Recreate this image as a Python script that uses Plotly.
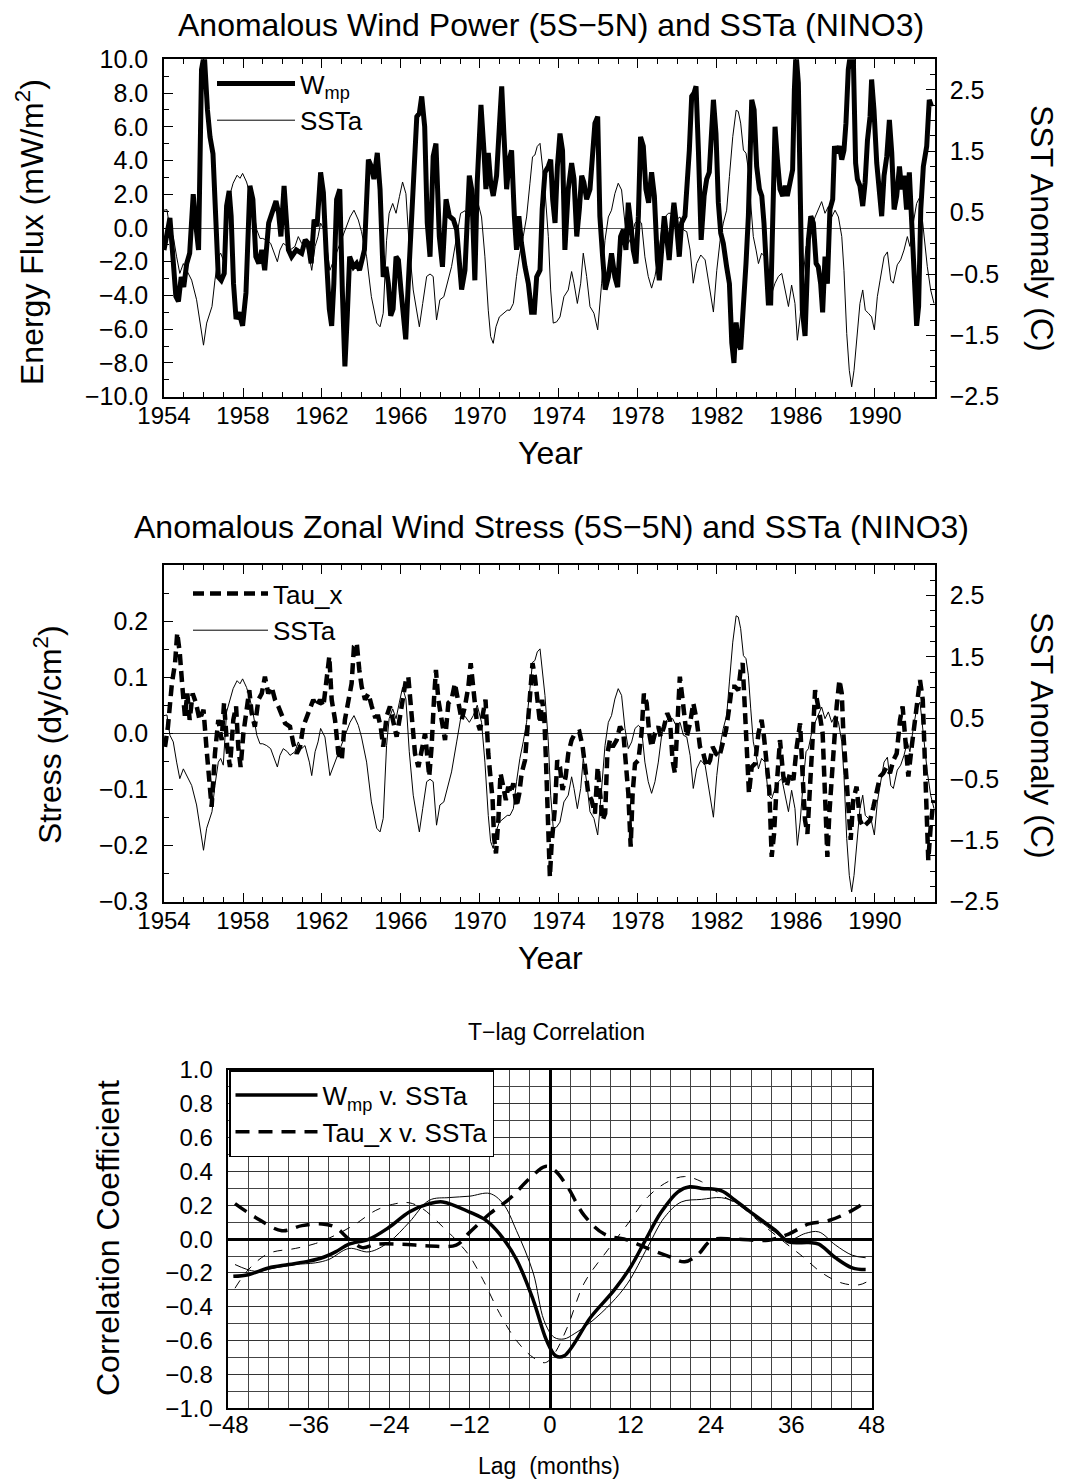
import plotly.graph_objects as go

# ---------------- Panel 1: anomalous wind power ----------------
W_YEAR = [1954.0, 1954.13, 1954.3, 1954.45, 1954.6, 1954.73, 1954.87, 1955.0, 1955.15, 1955.3,
          1955.48, 1955.6, 1955.75, 1955.9, 1956.04, 1956.2, 1956.33, 1956.48, 1956.63, 1956.75,
          1956.9, 1957.05, 1957.17, 1957.3, 1957.4, 1957.52, 1957.65, 1957.8, 1957.98, 1958.15,
          1958.35, 1958.5, 1958.65, 1958.8, 1958.95, 1959.1, 1959.3, 1959.45, 1959.67, 1959.8,
          1959.92, 1960.08, 1960.3, 1960.46, 1960.7, 1960.97, 1961.15, 1961.3, 1961.45, 1961.6,
          1961.75, 1961.93, 1962.07, 1962.22, 1962.37, 1962.49, 1962.6, 1962.74, 1962.9, 1963.03,
          1963.16, 1963.28, 1963.4, 1963.6, 1963.75, 1963.9, 1964.15, 1964.35, 1964.5, 1964.63,
          1964.8, 1964.94, 1965.1, 1965.24, 1965.36, 1965.48, 1965.6, 1965.75, 1965.87, 1966.0,
          1966.1, 1966.24, 1966.37, 1966.5, 1966.65, 1966.8, 1966.93, 1967.05, 1967.2, 1967.33,
          1967.47, 1967.63, 1967.77, 1967.94, 1968.1, 1968.28, 1968.45, 1968.65, 1968.82, 1969.07,
          1969.24, 1969.46, 1969.58, 1969.74, 1969.86, 1970.05, 1970.2, 1970.3, 1970.42, 1970.54,
          1970.67, 1970.84, 1970.98, 1971.1, 1971.21, 1971.35, 1971.48, 1971.6, 1971.74, 1971.85,
          1971.97, 1972.1, 1972.28, 1972.45, 1972.61, 1972.75, 1972.87, 1973.04, 1973.15, 1973.29,
          1973.46, 1973.58, 1973.68, 1973.8, 1973.92, 1974.05, 1974.18, 1974.3, 1974.47, 1974.64,
          1974.76, 1974.9, 1975.03, 1975.15, 1975.26, 1975.4, 1975.57, 1975.7, 1975.82, 1975.96,
          1976.07, 1976.21, 1976.34, 1976.5, 1976.66, 1976.83, 1976.97, 1977.12, 1977.26, 1977.39,
          1977.51, 1977.63, 1977.76, 1977.9, 1978.02, 1978.13, 1978.27, 1978.4, 1978.54, 1978.69,
          1978.83, 1978.98, 1979.08, 1979.2, 1979.33, 1979.45, 1979.58, 1979.72, 1979.82, 1979.96,
          1980.09, 1980.21, 1980.38, 1980.6, 1980.72, 1980.84, 1980.94, 1981.06, 1981.2, 1981.35,
          1981.48, 1981.61, 1981.73, 1981.82, 1981.95, 1982.07, 1982.19, 1982.32, 1982.49, 1982.63,
          1982.75, 1982.86, 1982.97, 1983.08, 1983.2, 1983.34, 1983.47, 1983.59, 1983.67, 1983.76,
          1983.88, 1984.01, 1984.15, 1984.27, 1984.38, 1984.48, 1984.6, 1984.72, 1984.82, 1984.94,
          1985.06, 1985.19, 1985.33, 1985.45, 1985.56, 1985.7, 1985.83, 1985.92, 1986.0, 1986.12,
          1986.21, 1986.32, 1986.46, 1986.54, 1986.63, 1986.75, 1986.88, 1987.02, 1987.13, 1987.25,
          1987.35, 1987.47, 1987.59, 1987.72, 1987.86, 1987.95, 1988.06, 1988.2, 1988.32, 1988.43,
          1988.53, 1988.65, 1988.77, 1988.9, 1989.02, 1989.11, 1989.24, 1989.38, 1989.5, 1989.62,
          1989.75, 1989.83, 1989.95, 1990.09, 1990.22, 1990.34, 1990.46, 1990.6, 1990.73, 1990.85,
          1990.97, 1991.1, 1991.24, 1991.35, 1991.47, 1991.6, 1991.74, 1991.86, 1991.98, 1992.11,
          1992.21, 1992.32, 1992.45, 1992.62, 1992.75, 1992.87]
W_VAL = [-1.3, -0.5, 0.6, -1.7, -4.05, -4.35, -2.9, -3.5, -2.1, -1.5,
         2.0, 0.3, -1.3, 9.4, 10.3, 7.0, 5.4, 4.4, -0.5, -2.9,
         -3.1, -2.7, 1.3, 2.2, 0.7, -3.3, -5.4, -5.0, -5.8, -3.85,
         2.5, 1.7, -1.7, -2.1, -1.3, -2.5, 0.3, 0.9, 1.6, 0.9,
         -0.5, 2.5, -1.3, -1.7, -1.3, -1.5, -0.7, -0.9, -2.1, 0.5,
         0.1, 3.3, 2.1, -1.7, -4.8, -5.8, -3.3, 1.7, 2.3, -3.7,
         -8.2, -5.2, -1.7, -2.3, -2.1, -2.5, -1.3, 4.05, 3.65, 2.9,
         4.45, 2.3, -2.9, -2.3, -3.3, -5.2, -4.8, -1.7, -1.9, -3.7,
         -4.8, -6.6, -3.3, -0.4, 3.1, 6.6, 6.8, 7.8, 6.0, 0.3,
         -1.7, 4.25, 5.0, -0.5, -2.3, 1.7, 0.7, 0.5, -0.1, -3.65,
         -2.5, 3.1, 2.3, -3.1, 2.7, 7.3, 4.6, 2.3, 4.45, 2.7,
         1.9, 3.1, 6.0, 8.4, 5.6, 2.3, 4.05, 4.6, 0.7, -1.3,
         0.7, -0.9, -2.3, -3.3, -5.0, -5.0, -2.9, -2.5, 1.1, 3.3,
         3.65, 4.05, 1.7, 0.3, 3.65, 5.6, 4.6, -1.3, 2.3, 3.85,
         2.9, -0.5, 1.1, 3.1, 2.7, 1.7, 2.3, 4.25, 6.2, 6.6,
         0.7, -1.7, -3.65, -2.9, -1.5, -2.9, -3.5, -0.5, -0.1, -1.3,
         1.5, 0.3, -1.3, -2.1, 0.7, 5.4, 4.85, 2.3, 1.5, 3.3,
         1.9, -1.9, -3.1, -1.3, 0.7, -0.5, -1.9, 0.3, 1.5, 0.1,
         -1.7, 0.3, 0.7, 4.6, 7.8, 8.0, 8.4, 4.6, -0.7, 1.9,
         2.9, 3.3, 6.6, 7.6, 5.6, 1.5, -0.3, -0.9, -2.3, -3.3,
         -6.8, -8.0, -5.6, -6.8, -7.2, -4.85, -2.1, 0.7, 5.6, 7.6,
         7.0, 3.65, 2.3, 1.9, 0.3, -2.3, -4.45, -4.45, 1.1, 6.0,
         4.05, 2.3, 1.9, 2.5, 1.9, 2.7, 3.45, 8.2, 10.4, 8.6,
         1.7, -4.85, -6.4, -3.3, -0.7, 0.7, 0.3, -2.1, -2.3, -3.3,
         -5.0, -1.7, -3.3, 1.1, 1.7, 4.85, 4.45, 4.85, 4.05, 4.6,
         6.2, 9.4, 10.4, 10.3, 3.85, 2.9, 2.5, 1.3, 2.7, 5.2,
         6.6, 8.8, 7.0, 3.85, 1.7, 0.7, 3.1, 4.25, 6.4, 4.45,
         1.1, 1.9, 3.65, 2.3, 3.1, 1.1, 3.3, 0.7, -2.3, -5.8,
         -4.65, 1.1, 3.65, 4.85, 7.6, 7.2]

# ---------------- SST anomaly (NINO3), shared by panels 1 and 2 ----------------
SST_YEAR = [1954.0, 1954.15, 1954.3, 1954.47, 1954.64, 1954.8, 1954.98, 1955.15, 1955.4, 1955.65,
            1955.82, 1956.0, 1956.16, 1956.3, 1956.43, 1956.58, 1956.75, 1956.87, 1957.0, 1957.17,
            1957.34, 1957.5, 1957.7, 1957.85, 1957.98, 1958.18, 1958.35, 1958.5, 1958.7, 1958.86,
            1959.0, 1959.2, 1959.4, 1959.57, 1959.74, 1959.87, 1960.04, 1960.25, 1960.38, 1960.63,
            1960.8, 1960.97, 1961.14, 1961.36, 1961.48, 1961.65, 1961.8, 1961.93, 1962.15, 1962.4,
            1962.66, 1962.9, 1963.16, 1963.42, 1963.62, 1963.84, 1964.0, 1964.26, 1964.5, 1964.77,
            1964.94, 1965.1, 1965.27, 1965.4, 1965.58, 1965.75, 1965.92, 1966.08, 1966.25, 1966.42,
            1966.62, 1966.8, 1966.93, 1967.1, 1967.3, 1967.47, 1967.63, 1967.8, 1967.97, 1968.17,
            1968.4, 1968.56, 1968.82, 1969.02, 1969.24, 1969.46, 1969.66, 1969.86, 1970.08, 1970.25,
            1970.42, 1970.54, 1970.67, 1970.81, 1970.98, 1971.18, 1971.38, 1971.52, 1971.69, 1971.85,
            1972.02, 1972.19, 1972.36, 1972.53, 1972.66, 1972.78, 1972.9, 1973.04, 1973.17, 1973.29,
            1973.46, 1973.58, 1973.71, 1973.88, 1974.05, 1974.25, 1974.47, 1974.64, 1974.76, 1974.93,
            1975.1, 1975.23, 1975.4, 1975.57, 1975.77, 1975.96, 1976.16, 1976.33, 1976.5, 1976.66,
            1976.83, 1977.0, 1977.17, 1977.34, 1977.51, 1977.68, 1977.85, 1978.02, 1978.18, 1978.35,
            1978.52, 1978.69, 1978.86, 1979.03, 1979.2, 1979.37, 1979.54, 1979.76, 1979.92, 1980.13,
            1980.3, 1980.47, 1980.64, 1980.8, 1980.97, 1981.18, 1981.4, 1981.56, 1981.82, 1981.99,
            1982.16, 1982.32, 1982.49, 1982.63, 1982.8, 1982.97, 1983.08, 1983.2, 1983.34, 1983.47,
            1983.59, 1983.71, 1983.84, 1983.98, 1984.1, 1984.26, 1984.43, 1984.6, 1984.77, 1984.94,
            1985.11, 1985.28, 1985.45, 1985.62, 1985.78, 1985.95, 1986.07, 1986.21, 1986.37, 1986.51,
            1986.63, 1986.8, 1986.97, 1987.13, 1987.3, 1987.47, 1987.64, 1987.81, 1987.98, 1988.15,
            1988.32, 1988.43, 1988.57, 1988.7, 1988.82, 1988.94, 1989.08, 1989.24, 1989.38, 1989.51,
            1989.67, 1989.83, 1989.97, 1990.12, 1990.26, 1990.46, 1990.63, 1990.8, 1990.93, 1991.13,
            1991.3, 1991.47, 1991.64, 1991.77, 1991.94, 1992.11, 1992.28, 1992.45, 1992.65, 1992.82,
            1992.99]
SST_VAL = [0.54, 0.55, 0.22, 0.11, -0.22, -0.49, -0.33, -0.44, -0.6, -0.92,
           -1.3, -1.66, -1.3, -1.14, -1.03, -0.6, -0.22, -0.16, -0.27, 0.6,
           0.81, 0.98, 1.11, 1.06, 1.14, 1.0, 0.81, 0.6, 0.22, 0.08,
           0.08, 0.05, 0.0, -0.16, -0.3, -0.11, 0.0, -0.05, -0.11, -0.05,
           0.11, 0.0, 0.05, -0.22, -0.44, -0.05, 0.11, 0.33, 0.19, -0.44,
           -0.22, 0.0, 0.22, 0.43, 0.54, 0.38, 0.19, -0.22, -0.87, -1.3,
           -1.36, -1.14, 0.05, 0.49, 0.65, 0.49, 0.76, 1.0, 0.81, -0.05,
           -0.76, -1.14, -1.36, -0.98, -0.54, -0.5, -0.54, -1.25, -0.92, -0.87,
           -0.6, -0.38, 0.11, 0.49, 0.53, 0.43, 0.54, 0.71, 0.43, -0.22,
           -1.09, -1.52, -1.63, -1.36, -1.2, -1.14, -1.09, -1.09, -0.98, -0.54,
           -0.16, 0.11, 0.43, 0.98, 1.41, 1.44, 1.58, 1.63, 1.25, 0.87,
           0.11, -0.76, -1.3, -1.28, -1.2, -0.87, -0.76, -0.46, -0.65, -0.98,
           -0.65, -0.16, -0.54, -1.03, -1.14, -1.41, -0.65, 0.05, 0.43, 0.54,
           0.81, 0.98, 0.87, 0.33, 0.0, 0.11, 0.33, 0.38, 0.33, -0.22,
           -0.54, -0.73, -0.54, -0.22, 0.22, 0.43, 0.49, 0.49, 0.38, 0.43,
           0.22, 0.19, -0.11, -0.65, -0.33, -0.19, -0.27, -0.6, -1.12, -0.44,
           0.05, 0.33, 0.54, 1.09, 1.74, 2.17, 2.15, 1.96, 1.52, 1.47,
           1.2, 0.65, 0.11, -0.11, -0.33, -0.16, -0.22, -0.76, -0.82, -0.65,
           -0.54, -0.49, -0.76, -1.03, -0.68, -0.98, -1.58, -1.2, -0.54, -0.05,
           0.0, 0.27, 0.43, 0.54, 0.68, 0.49, 0.6, 0.43, 0.54, 0.43,
           0.11, -0.44, -1.47, -2.07, -2.34, -2.07, -1.52, -0.98, -0.76, -1.09,
           -1.14, -1.2, -1.41, -0.87, -0.6, -0.22, -0.14, -0.6, -0.65, -0.35,
           -0.27, -0.11, 0.11, -0.05, 0.33, 0.65, 0.76, 0.22, -0.38, -0.76,
           -0.98]

# ---------------- Panel 2: anomalous zonal wind stress ----------------
TAU_YEAR = [1954.05, 1954.2, 1954.4, 1954.56, 1954.67, 1954.8, 1954.93, 1955.06, 1955.18, 1955.3,
            1955.45, 1955.62, 1955.8, 1956.0, 1956.16, 1956.3, 1956.41, 1956.58, 1956.75, 1956.92,
            1957.04, 1957.2, 1957.34, 1957.51, 1957.65, 1957.76, 1957.88, 1958.02, 1958.19, 1958.32,
            1958.44, 1958.6, 1958.78, 1958.95, 1959.11, 1959.28, 1959.45, 1959.62, 1959.79, 1959.96,
            1960.13, 1960.38, 1960.55, 1960.72, 1960.89, 1961.05, 1961.22, 1961.39, 1961.56, 1961.73,
            1961.9, 1962.07, 1962.24, 1962.37, 1962.49, 1962.66, 1962.83, 1963.0, 1963.16, 1963.33,
            1963.5, 1963.62, 1963.76, 1963.89, 1964.01, 1964.18, 1964.35, 1964.52, 1964.68, 1964.85,
            1964.97, 1965.1, 1965.27, 1965.44, 1965.61, 1965.78, 1965.95, 1966.12, 1966.25, 1966.37,
            1966.54, 1966.71, 1966.88, 1967.05, 1967.22, 1967.43, 1967.55, 1967.67, 1967.77, 1967.89,
            1968.06, 1968.23, 1968.4, 1968.56, 1968.73, 1968.9, 1969.07, 1969.24, 1969.41, 1969.53,
            1969.66, 1969.83, 1970.0, 1970.17, 1970.28, 1970.42, 1970.54, 1970.64, 1970.71, 1970.81,
            1970.93, 1971.04, 1971.18, 1971.31, 1971.43, 1971.55, 1971.69, 1971.85, 1971.99, 1972.11,
            1972.28, 1972.4, 1972.53, 1972.66, 1972.78, 1972.9, 1973.04, 1973.15, 1973.26, 1973.34,
            1973.46, 1973.54, 1973.63, 1973.71, 1973.8, 1973.91, 1974.05, 1974.18, 1974.34, 1974.47,
            1974.64, 1974.81, 1975.03, 1975.2, 1975.31, 1975.48, 1975.65, 1975.82, 1975.96, 1976.07,
            1976.21, 1976.34, 1976.45, 1976.58, 1976.72, 1976.92, 1977.09, 1977.26, 1977.39, 1977.51,
            1977.63, 1977.73, 1977.85, 1978.02, 1978.18, 1978.3, 1978.44, 1978.57, 1978.69, 1978.86,
            1979.03, 1979.15, 1979.32, 1979.48, 1979.62, 1979.75, 1979.87, 1979.99, 1980.12, 1980.26,
            1980.38, 1980.47, 1980.64, 1980.8, 1980.97, 1981.14, 1981.31, 1981.48, 1981.65, 1981.78,
            1981.95, 1982.12, 1982.29, 1982.46, 1982.63, 1982.75, 1982.91, 1983.08, 1983.2, 1983.3,
            1983.39, 1983.47, 1983.54, 1983.62, 1983.76, 1983.93, 1984.1, 1984.26, 1984.38, 1984.52,
            1984.65, 1984.77, 1984.89, 1985.02, 1985.19, 1985.36, 1985.53, 1985.7, 1985.87, 1986.04,
            1986.21, 1986.34, 1986.46, 1986.58, 1986.71, 1986.85, 1986.97, 1987.08, 1987.22, 1987.35,
            1987.42, 1987.51, 1987.59, 1987.69, 1987.81, 1987.93, 1988.06, 1988.2, 1988.32, 1988.4,
            1988.52, 1988.65, 1988.77, 1988.9, 1989.07, 1989.24, 1989.41, 1989.58, 1989.75, 1989.92,
            1990.09, 1990.26, 1990.42, 1990.59, 1990.76, 1990.93, 1991.1, 1991.27, 1991.4, 1991.52,
            1991.69, 1991.86, 1992.03, 1992.15, 1992.28, 1992.42, 1992.53, 1992.62, 1992.7, 1992.82,
            1992.96]
TAU_VAL = [-0.024, 0.012, 0.089, 0.125, 0.179, 0.143, 0.083, 0.03, 0.071, 0.024,
           0.071, 0.054, 0.024, 0.042, -0.03, -0.095, -0.131, -0.036, 0.024, -0.012,
           0.054, -0.024, -0.06, 0.024, 0.048, -0.024, -0.06, 0.0, 0.048, 0.077,
           0.036, 0.012, 0.06, 0.071, 0.101, 0.071, 0.083, 0.06, 0.048, 0.03,
           0.018, 0.012, -0.018, -0.036, -0.024, 0.012, 0.03, 0.042, 0.06, 0.048,
           0.06, 0.048, 0.107, 0.137, 0.06, 0.024, -0.036, -0.048, 0.024, 0.06,
           0.089, 0.155, 0.161, 0.113, 0.083, 0.06, 0.071, 0.048, 0.03, 0.03,
           0.012, -0.024, 0.03, 0.048, 0.024, -0.006, 0.03, 0.071, 0.095, 0.101,
           0.036, -0.036, -0.06, -0.024, 0.0, -0.077, -0.024, 0.06, 0.113, 0.06,
           0.024, -0.012, 0.054, 0.06, 0.089, 0.06, 0.024, 0.048, 0.083, 0.125,
           0.083, 0.024, 0.006, 0.036, 0.06, -0.036, -0.077, -0.119, -0.185, -0.214,
           -0.155, -0.071, -0.095, -0.119, -0.095, -0.107, -0.089, -0.131, -0.107, -0.071,
           -0.048, 0.0, 0.071, 0.125, 0.101, 0.054, 0.018, 0.06, 0.024, -0.048,
           -0.155, -0.256, -0.196, -0.167, -0.131, -0.048, -0.06, -0.101, -0.077, -0.036,
           -0.012, 0.0, 0.003, -0.024, -0.06, -0.107, -0.119, -0.143, -0.06, -0.107,
           -0.155, -0.143, -0.036, -0.012, -0.024, -0.012, 0.012, 0.0, -0.048, -0.107,
           -0.202, -0.107, -0.054, -0.048, 0.0, 0.071, 0.054, 0.0, -0.024, 0.0,
           0.012, -0.006, 0.012, 0.036, 0.024, -0.048, -0.071, 0.024, 0.101, 0.06,
           0.012, -0.006, 0.018, 0.054, 0.024, -0.024, -0.036, -0.06, -0.048, -0.024,
           -0.036, -0.042, -0.018, 0.006, 0.048, 0.083, 0.083, 0.077, 0.113, 0.125,
           0.06, 0.0, -0.077, -0.107, -0.06, -0.054, 0.0, 0.024, -0.006, -0.048,
           -0.101, -0.22, -0.179, -0.095, -0.012, -0.077, -0.095, -0.071, -0.083, -0.024,
           0.018, -0.077, -0.155, -0.179, -0.107, -0.006, 0.077, 0.06, 0.03, 0.0,
           -0.06, -0.167, -0.22, -0.143, -0.071, -0.024, 0.048, 0.095, 0.071, 0.0,
           -0.06, -0.143, -0.19, -0.119, -0.095, -0.155, -0.167, -0.161, -0.155, -0.131,
           -0.107, -0.077, -0.071, -0.06, -0.071, -0.048, -0.036, 0.024, 0.048, -0.012,
           -0.077, -0.024, 0.024, 0.071, 0.095, 0.06, -0.06, -0.155, -0.226, -0.167,
           -0.119]

# ---------------- Panel 3: lag correlation ----------------
LAG_W = [-47.25, -45, -42, -39, -36, -34, -32, -30, -27, -24, -21, -18, -16, -12, -9.5, -7.5, -5,
         -2.5, -0.5, 0.85, 2.1, 6.1, 9.6, 12.1, 14.1, 16.6, 19.1, 20.85, 22.6, 25.6, 27.6, 30.6,
         33.6, 35.6, 38.6, 40.1, 42.6, 45.1, 47.1]
R_W = [-0.22, -0.21, -0.17, -0.15, -0.13, -0.11, -0.075, -0.03, 0.0, 0.07, 0.16, 0.21, 0.22,
       0.16, 0.11, 0.03, -0.12, -0.36, -0.6, -0.69, -0.69, -0.46, -0.30, -0.16, -0.016, 0.16,
       0.28, 0.31, 0.30, 0.286, 0.23, 0.14, 0.053, -0.016, -0.02, -0.03, -0.11, -0.17, -0.18]
LAG_T = [-47, -44, -40, -37, -34, -32, -30, -28, -26, -22, -18, -14, -12, -9, -6, -3, -0.7, 0.6,
         2.6, 5.1, 8.1, 11.6, 14.6, 17.6, 20.1, 22.1, 24.1, 27.6, 32.6, 35.6, 38.6, 41.6, 44.6, 47.1]
R_T = [0.21, 0.13, 0.05, 0.08, 0.09, 0.07, 0.0, -0.05, -0.03, -0.03, -0.04, -0.035, 0.04, 0.15,
       0.24, 0.36, 0.43, 0.41, 0.31, 0.14, 0.03, -0.006, -0.055, -0.10, -0.134, -0.09, -0.006,
       0.0, -0.006, 0.03, 0.09, 0.11, 0.16, 0.22]
LAG_W_THIN = [-47, -44, -41, -38, -35, -33, -30, -27, -24, -21, -18, -15, -12, -9, -7, -5, -2.5,
              -0.9, 0.6, 2.1, 3.6, 6.1, 9.1, 11.6, 14.6, 17.1, 19.6, 22.6, 25.6, 28.1, 30.6, 33.6,
              35.6, 38.1, 40.1, 42.6, 45.1, 47.1]
R_W_THIN = [-0.15, -0.19, -0.17, -0.15, -0.14, -0.12, -0.055, -0.075, -0.016, 0.10, 0.23, 0.246,
            0.254, 0.27, 0.21, 0.05, -0.2, -0.48, -0.58, -0.59, -0.56, -0.49, -0.38, -0.26, -0.045,
            0.13, 0.22, 0.235, 0.245, 0.21, 0.13, 0.04, -0.006, 0.034, 0.043, -0.035, -0.095, -0.11]
LAG_T_THIN = [-47, -45, -42, -38, -35, -32, -29, -26, -23, -21, -19, -16, -14, -12, -10, -7.5, -5,
              -2.5, -0.7, 0.6, 2.6, 5.1, 8.6, 11.6, 14.6, 17.6, 20.1, 22.6, 25.6, 28.6, 31.6, 34.6,
              37.6, 40.6, 43.6, 46.1, 47.4]
R_T_THIN = [-0.29, -0.18, -0.085, -0.055, -0.026, 0.024, 0.09, 0.17, 0.21, 0.215, 0.18, 0.073,
            -0.006, -0.1, -0.24, -0.44, -0.6, -0.7, -0.73, -0.68, -0.52, -0.26, -0.065, 0.09, 0.25,
            0.34, 0.37, 0.34, 0.26, 0.19, 0.09, -0.006, -0.1, -0.2, -0.26, -0.27, -0.25]

YEAR_TICKS = [1954, 1958, 1962, 1966, 1970, 1974, 1978, 1982, 1986, 1990]
W_TICKS = [-10, -8, -6, -4, -2, 0, 2, 4, 6, 8, 10]
SST_TICKS = [-2.5, -1.5, -0.5, 0.5, 1.5, 2.5]
TAU_TICKS = [-0.3, -0.2, -0.1, 0.0, 0.1, 0.2]
LAG_TICKS = [-48, -36, -24, -12, 0, 12, 24, 36, 48]
R_TICKS = [-1.0, -0.8, -0.6, -0.4, -0.2, 0.0, 0.2, 0.4, 0.6, 0.8, 1.0]


def lab(v, fmt):
    s = format(v, fmt)
    return s.replace("-", "\u2212")


FONT = "Liberation Sans, Arial, Helvetica, sans-serif"
XTICK_FS = 24
YTICK_FS = 25
LEG_FS = 26
TITLE_FS = 32
SMALL_TITLE_FS = 23
W_PX, H_PX = 1067, 1481
OFF = 8  # page body margin of the browser


def px(x):
    return (x - OFF) / W_PX


def py(y):
    return 1 - (y - OFF) / H_PX


fig = go.Figure()

# Panel 1
fig.add_trace(go.Scatter(x=W_YEAR, y=W_VAL, mode="lines", name="W<sub>mp</sub>",
                         line=dict(color="black", width=5), xaxis="x", yaxis="y",
                         legend="legend"))
fig.add_trace(go.Scatter(x=SST_YEAR, y=SST_VAL, mode="lines", name="SSTa",
                         line=dict(color="black", width=1), xaxis="x", yaxis="y2",
                         legend="legend"))
# Panel 2
fig.add_trace(go.Scatter(x=TAU_YEAR, y=TAU_VAL, mode="lines", name="Tau_x",
                         line=dict(color="black", width=4.5, dash="11px,6px"),
                         xaxis="x2", yaxis="y3", legend="legend2"))
fig.add_trace(go.Scatter(x=SST_YEAR, y=SST_VAL, mode="lines", name="SSTa",
                         line=dict(color="black", width=1), xaxis="x2", yaxis="y4",
                         legend="legend2"))
# Panel 3
fig.add_trace(go.Scatter(x=LAG_W_THIN, y=R_W_THIN, mode="lines", showlegend=False,
                         line=dict(color="black", width=1, shape="spline"),
                         xaxis="x3", yaxis="y5"))
fig.add_trace(go.Scatter(x=LAG_T_THIN, y=R_T_THIN, mode="lines", showlegend=False,
                         line=dict(color="black", width=1, dash="9px,9px", shape="spline"),
                         xaxis="x3", yaxis="y5"))
fig.add_trace(go.Scatter(x=LAG_W, y=R_W, mode="lines", name="W<sub>mp</sub> v. SSTa",
                         line=dict(color="black", width=3.5, shape="spline"),
                         xaxis="x3", yaxis="y5", legend="legend3"))
fig.add_trace(go.Scatter(x=LAG_T, y=R_T, mode="lines", name="Tau_x v. SSTa",
                         line=dict(color="black", width=3.5, dash="14px,9px", shape="spline"),
                         xaxis="x3", yaxis="y5", legend="legend3"))

xtickfont = dict(family=FONT, size=XTICK_FS, color="black")
ytickfont = dict(family=FONT, size=YTICK_FS, color="black")
minor_common = dict(ticks="inside", ticklen=5, tickcolor="black", tickwidth=1)

XD = [px(164), px(935)]
P1 = [py(396.7), py(59.3)]
P2 = [py(901.7), py(565)]
XD3 = [px(228.3), px(871.7)]
P3 = [py(1408.3), py(1070)]


def year_axis(anchor):
    return dict(domain=XD, anchor=anchor, range=[1954, 1993.04], automargin=False,
                tickmode="array", tickvals=YEAR_TICKS,
                ticktext=[str(v) for v in YEAR_TICKS],
                ticks="inside", ticklen=9, tickcolor="black", tickwidth=1,
                minor=dict(tick0=1954, dtick=1, **minor_common),
                showline=True, linecolor="black", linewidth=1.5, mirror="ticks",
                showgrid=False, zeroline=False, tickfont=xtickfont, ticklabelstandoff=-3)


def sst_axis(overlay, anchor):
    return dict(overlaying=overlay, anchor=anchor, side="right", range=[-2.5, 3.0],
                automargin=False, tickmode="array", tickvals=SST_TICKS,
                ticktext=[lab(v, ".1f") for v in SST_TICKS],
                ticks="inside", ticklen=9, tickcolor="black",
                minor=dict(tick0=-2.5, dtick=0.25, **minor_common),
                showline=True, linecolor="black", linewidth=1.5,
                showgrid=False, zeroline=False, tickfont=ytickfont,
                ticklabelstandoff=8)


layout = dict(
    width=W_PX, height=H_PX, margin=dict(l=0, r=0, t=0, b=0, autoexpand=False),
    paper_bgcolor="white", plot_bgcolor="white",
    font=dict(family=FONT, size=XTICK_FS, color="black"),
    xaxis=year_axis("y"),
    yaxis=dict(domain=P1, anchor="x", range=[-10, 10], automargin=False,
               tickmode="array", tickvals=W_TICKS,
               ticktext=[lab(v, ".1f") for v in W_TICKS], ticks="inside", ticklen=9,
               tickcolor="black", minor=dict(tick0=-10, dtick=1, **minor_common),
               showline=True, linecolor="black", linewidth=1.5, showgrid=False,
               zeroline=True, zerolinecolor="#555555", zerolinewidth=1,
               tickfont=ytickfont, ticklabelstandoff=9),
    yaxis2=sst_axis("y", "x"),
    xaxis2=year_axis("y3"),
    yaxis3=dict(domain=P2, anchor="x2", range=[-0.3, 0.3], automargin=False,
                tickmode="array", tickvals=TAU_TICKS,
                ticktext=[lab(v, ".1f") for v in TAU_TICKS], ticks="inside", ticklen=9,
                tickcolor="black", minor=dict(tick0=-0.3, dtick=0.05, **minor_common),
                showline=True, linecolor="black", linewidth=1.5, showgrid=False,
                zeroline=True, zerolinecolor="#333333", zerolinewidth=1,
                tickfont=ytickfont, ticklabelstandoff=9),
    yaxis4=sst_axis("y3", "x2"),
    xaxis3=dict(domain=XD3, anchor="y5", range=[-48, 48], automargin=False,
                tickmode="array", tickvals=LAG_TICKS,
                ticktext=[lab(v, "d") for v in LAG_TICKS], ticks="", showgrid=True,
                gridcolor="#333333", gridwidth=1,
                minor=dict(tick0=-48, dtick=3, showgrid=True, gridcolor="#444444", gridwidth=1),
                showline=True, linecolor="black", linewidth=1.5, mirror=True,
                zeroline=True, zerolinecolor="black", zerolinewidth=3, tickfont=xtickfont,
                ticklabelstandoff=-6),
    yaxis5=dict(domain=P3, anchor="x3", range=[-1, 1], automargin=False,
                tickmode="array", tickvals=R_TICKS,
                ticktext=[lab(v, ".1f") for v in R_TICKS], ticks="", showgrid=True,
                gridcolor="#333333", gridwidth=1,
                minor=dict(tick0=-1, dtick=0.1, showgrid=True, gridcolor="#444444", gridwidth=1),
                showline=True, linecolor="black", linewidth=1.5, mirror=True,
                zeroline=True, zerolinecolor="black", zerolinewidth=3, tickfont=xtickfont,
                ticklabelstandoff=9),
    legend=dict(x=px(212), y=py(60), xanchor="left", yanchor="top", bgcolor="rgba(0,0,0,0)",
                font=dict(family=FONT, size=LEG_FS), tracegroupgap=0, itemwidth=78),
    legend2=dict(x=px(188), y=py(570), xanchor="left", yanchor="top",
                 bgcolor="rgba(0,0,0,0)", font=dict(family=FONT, size=LEG_FS), itemwidth=75),
    legend3=dict(x=px(229), y=py(1070), xanchor="left", yanchor="top", bgcolor="white",
                 bordercolor="black", borderwidth=1.5, font=dict(family=FONT, size=LEG_FS),
                 itemwidth=82),
)
fig.update_layout(**layout)

annots = [
    (px(551), py(25), "Anomalous Wind Power (5S\u22125N) and SSTa (NINO3)", 0, TITLE_FS),
    (px(550), py(453), "Year", 0, TITLE_FS),
    (px(551), py(527), "Anomalous Zonal Wind Stress (5S\u22125N) and SSTa (NINO3)", 0, TITLE_FS),
    (px(550), py(958), "Year", 0, TITLE_FS),
    (px(556), py(1032), "T\u2212lag Correlation", 0, SMALL_TITLE_FS),
    (px(549), py(1466), "Lag  (months)", 0, SMALL_TITLE_FS),
    (px(30), py(232), "Energy Flux (mW/m<sup>2</sup>)", -90, TITLE_FS),
    (px(48), py(735), "Stress (dy/cm<sup>2</sup>)", -90, TITLE_FS),
    (px(108), py(1238), "Correlation Coefficient", -90, TITLE_FS),
    (px(1042), py(228), "SST Anomaly (C)", 90, TITLE_FS),
    (px(1042), py(735), "SST Anomaly (C)", 90, TITLE_FS),
]
for x, y, t, ang, fs in annots:
    fig.add_annotation(x=x, y=y, xref="paper", yref="paper", text=t, showarrow=False,
                       textangle=ang, font=dict(family=FONT, size=fs, color="black"),
                       xanchor="center", yanchor="middle")

fig.write_html("out.html")
